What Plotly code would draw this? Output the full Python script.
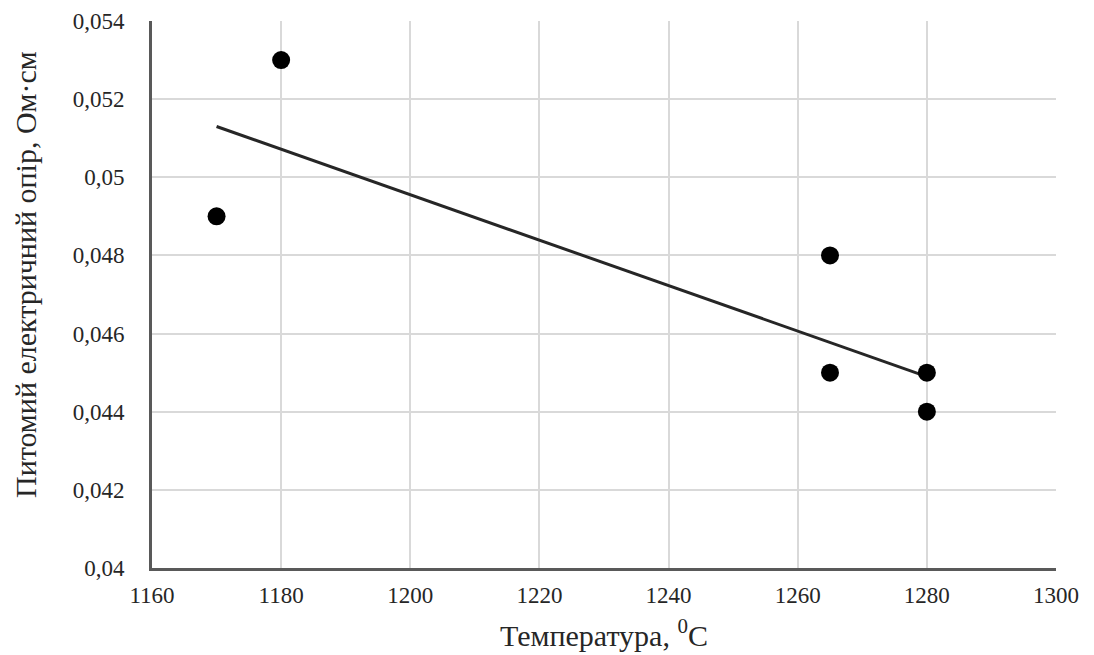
import plotly.graph_objects as go

# Data
temperature = [1170, 1180, 1265, 1265, 1280, 1280]
resistivity = [0.049, 0.053, 0.048, 0.045, 0.045, 0.044]

trend_x = [1170, 1280]
trend_y = [0.0513, 0.0449]

x_ticks = [1160, 1180, 1200, 1220, 1240, 1260, 1280, 1300]
y_ticks = [0.04, 0.042, 0.044, 0.046, 0.048, 0.05, 0.052, 0.054]
y_ticklabels = ["0,04", "0,042", "0,044", "0,046", "0,048", "0,05", "0,052", "0,054"]

x_title = "Температура, <sup>0</sup>C"
y_title = "Питомий електричний опір, Ом·см"

font_family = "Liberation Serif"
text_color = "#262626"

fig = go.Figure()

fig.add_trace(go.Scatter(
    x=trend_x, y=trend_y, mode="lines",
    line=dict(color="#262626", width=3),
    showlegend=False, hoverinfo="skip",
))

fig.add_trace(go.Scatter(
    x=temperature, y=resistivity, mode="markers",
    marker=dict(color="#000000", size=18, line=dict(width=0)),
    showlegend=False,
))

fig.add_annotation(
    text=x_title, xref="paper", yref="paper", x=0.5, y=0,
    xanchor="center", yanchor="middle", yshift=-65, showarrow=False,
    font=dict(size=30, family=font_family, color=text_color),
)
fig.add_annotation(
    text=y_title, xref="paper", yref="paper", x=0, y=0.5356,
    xanchor="center", yanchor="middle", xshift=-127, textangle=-90, showarrow=False,
    font=dict(size=30, family=font_family, color=text_color),
)

fig.update_layout(
    width=1094, height=655,
    margin=dict(l=152, r=38, t=21, b=87),
    paper_bgcolor="white", plot_bgcolor="white",
    font=dict(family=font_family, size=23, color=text_color),
    xaxis=dict(
        range=[1160, 1300], tickvals=x_ticks, automargin=False,
        showgrid=True, gridcolor="#d9d9d9", gridwidth=2,
        showline=True, linecolor="#595959", linewidth=3,
        zeroline=False, ticks="", ticklabelstandoff=4,
        tickfont=dict(size=23, family=font_family, color=text_color),
    ),
    yaxis=dict(
        range=[0.04, 0.054], tickvals=y_ticks, ticktext=y_ticklabels, automargin=False,
        showgrid=True, gridcolor="#d9d9d9", gridwidth=2,
        showline=True, linecolor="#595959", linewidth=3,
        zeroline=False, ticks="", ticklabelstandoff=20,
        tickfont=dict(size=23, family=font_family, color=text_color),
    ),
)

fig.write_html("out.html")
